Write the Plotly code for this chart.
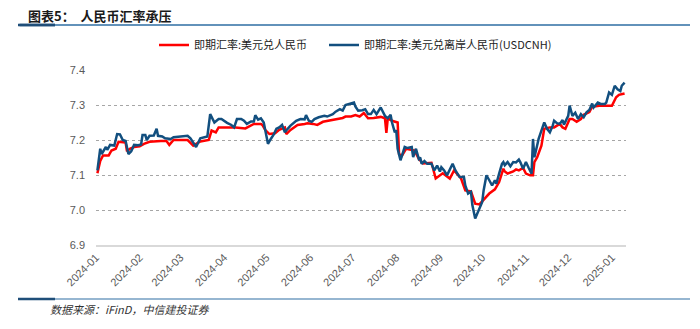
import plotly.graph_objects as go

# 即期汇率:美元兑人民币 (CNY)
cny_dates = ["2024-01-02","2024-01-04","2024-01-06","2024-01-10","2024-01-12","2024-01-15","2024-01-17","2024-01-22","2024-01-23","2024-01-25",
"2024-01-28","2024-02-01","2024-02-04","2024-02-08","2024-02-16","2024-02-20","2024-02-22","2024-02-25","2024-03-01","2024-03-06",
"2024-03-10","2024-03-15","2024-03-21","2024-03-23","2024-03-26","2024-03-28","2024-04-01","2024-04-06","2024-04-09","2024-04-16",
"2024-04-18","2024-04-22","2024-04-27","2024-04-28","2024-04-30","2024-05-03","2024-05-07","2024-05-10","2024-05-14","2024-05-15",
"2024-05-18","2024-05-23","2024-05-28","2024-05-30","2024-06-03","2024-06-06","2024-06-10","2024-06-15","2024-06-19","2024-06-24",
"2024-06-26","2024-06-30","2024-07-03","2024-07-06","2024-07-09","2024-07-12","2024-07-16","2024-07-21","2024-07-24","2024-07-25",
"2024-07-26","2024-07-29","2024-08-02","2024-08-03","2024-08-05","2024-08-08","2024-08-14","2024-08-17","2024-08-20","2024-08-26",
"2024-08-29","2024-09-03","2024-09-08","2024-09-11","2024-09-16","2024-09-19","2024-09-23","2024-09-26","2024-09-29","2024-10-02",
"2024-10-06","2024-10-10","2024-10-13","2024-10-16","2024-10-17","2024-10-19","2024-10-23","2024-10-25","2024-10-27","2024-10-30",
"2024-11-01","2024-11-04","2024-11-06","2024-11-07","2024-11-09","2024-11-12","2024-11-14","2024-11-18","2024-11-21","2024-11-25",
"2024-11-27","2024-11-29","2024-12-02","2024-12-04","2024-12-07","2024-12-10","2024-12-12","2024-12-16","2024-12-18","2024-12-23",
"2024-12-30","2025-01-01","2025-01-04","2025-01-06","2025-01-10"]
cny_values = [7.105,7.140,7.156,7.156,7.170,7.175,7.195,7.193,7.168,7.175,
7.180,7.182,7.189,7.195,7.197,7.197,7.186,7.200,7.200,7.200,
7.184,7.196,7.200,7.227,7.222,7.236,7.236,7.236,7.236,7.233,
7.238,7.246,7.246,7.243,7.229,7.217,7.219,7.229,7.236,7.217,
7.229,7.243,7.246,7.248,7.246,7.243,7.252,7.256,7.260,7.263,
7.267,7.267,7.271,7.267,7.277,7.262,7.263,7.266,7.262,7.220,
7.262,7.255,7.250,7.160,7.155,7.175,7.170,7.146,7.133,7.135,
7.090,7.105,7.090,7.113,7.090,7.056,7.053,7.018,7.016,7.028,
7.047,7.059,7.080,7.118,7.110,7.104,7.110,7.116,7.113,7.120,
7.104,7.099,7.099,7.137,7.151,7.184,7.232,7.236,7.236,7.246,
7.236,7.232,7.260,7.260,7.252,7.260,7.272,7.280,7.295,7.298,
7.298,7.298,7.322,7.329,7.333]

# 即期汇率:美元兑离岸人民币(USDCNH)
cnh_dates = ["2024-01-02","2024-01-04","2024-01-05","2024-01-08","2024-01-09","2024-01-11","2024-01-14","2024-01-16","2024-01-18","2024-01-20",
"2024-01-22","2024-01-24","2024-01-26","2024-01-28","2024-01-31","2024-02-02","2024-02-03","2024-02-05","2024-02-06","2024-02-08",
"2024-02-11","2024-02-13","2024-02-14","2024-02-17","2024-02-19","2024-02-23","2024-02-25","2024-03-01","2024-03-06","2024-03-08",
"2024-03-12","2024-03-15","2024-03-17","2024-03-20","2024-03-22","2024-03-25","2024-03-28","2024-03-30","2024-04-03","2024-04-06",
"2024-04-08","2024-04-10","2024-04-13","2024-04-15","2024-04-17","2024-04-20","2024-04-22","2024-04-23","2024-04-25","2024-04-27",
"2024-04-29","2024-04-30","2024-05-02","2024-05-04","2024-05-06","2024-05-08","2024-05-10","2024-05-12","2024-05-14","2024-05-16",
"2024-05-18","2024-05-22","2024-05-25","2024-05-28","2024-05-29","2024-05-31","2024-06-02","2024-06-04","2024-06-07","2024-06-11",
"2024-06-13","2024-06-17","2024-06-19","2024-06-22","2024-06-24","2024-06-26","2024-06-29","2024-07-02","2024-07-03","2024-07-05",
"2024-07-08","2024-07-10","2024-07-12","2024-07-14","2024-07-16","2024-07-18","2024-07-21","2024-07-24","2024-07-26","2024-07-28",
"2024-07-29","2024-07-31","2024-08-01","2024-08-02","2024-08-04","2024-08-05","2024-08-07","2024-08-09","2024-08-12","2024-08-13",
"2024-08-15","2024-08-17","2024-08-18","2024-08-19","2024-08-21","2024-08-23","2024-08-26","2024-08-28","2024-08-30","2024-09-01",
"2024-09-02","2024-09-04","2024-09-06","2024-09-10","2024-09-12","2024-09-15","2024-09-18","2024-09-19","2024-09-21","2024-09-23",
"2024-09-24","2024-09-26","2024-09-28","2024-10-01","2024-10-02","2024-10-04","2024-10-06","2024-10-08","2024-10-10","2024-10-11",
"2024-10-13","2024-10-15","2024-10-16","2024-10-17","2024-10-19","2024-10-21","2024-10-23","2024-10-25","2024-10-27","2024-10-28",
"2024-10-30","2024-11-01","2024-11-03","2024-11-05","2024-11-06","2024-11-07","2024-11-09","2024-11-10","2024-11-12","2024-11-14",
"2024-11-16","2024-11-18","2024-11-20","2024-11-21","2024-11-23","2024-11-25","2024-11-27","2024-11-28","2024-12-01","2024-12-02",
"2024-12-04","2024-12-06","2024-12-08","2024-12-10","2024-12-12","2024-12-14","2024-12-16","2024-12-18","2024-12-19","2024-12-22",
"2024-12-24","2024-12-27","2024-12-28","2024-12-30","2025-01-01","2025-01-03","2025-01-05","2025-01-07","2025-01-08","2025-01-10"]
cnh_values = [7.113,7.175,7.160,7.180,7.172,7.186,7.184,7.217,7.216,7.200,
7.197,7.160,7.168,7.186,7.185,7.187,7.214,7.214,7.200,7.212,
7.213,7.232,7.212,7.210,7.205,7.203,7.208,7.210,7.212,7.205,
7.180,7.205,7.207,7.210,7.274,7.250,7.260,7.260,7.249,7.243,
7.236,7.260,7.260,7.255,7.246,7.253,7.253,7.271,7.258,7.262,
7.250,7.227,7.189,7.203,7.215,7.232,7.236,7.243,7.222,7.232,
7.241,7.255,7.260,7.259,7.271,7.255,7.252,7.260,7.265,7.269,
7.267,7.274,7.281,7.288,7.284,7.300,7.303,7.307,7.296,7.284,
7.285,7.288,7.274,7.274,7.286,7.274,7.293,7.269,7.262,7.272,
7.250,7.222,7.228,7.175,7.142,7.155,7.180,7.177,7.180,7.151,
7.175,7.146,7.150,7.132,7.140,7.132,7.132,7.113,7.127,7.110,
7.122,7.113,7.099,7.132,7.113,7.094,7.094,7.070,7.047,7.052,
7.014,6.976,6.995,7.023,7.056,7.099,7.085,7.070,7.085,7.075,
7.104,7.132,7.137,7.128,7.137,7.125,7.137,7.136,7.144,7.137,
7.118,7.137,7.120,7.104,7.203,7.151,7.185,7.203,7.227,7.250,
7.232,7.222,7.241,7.255,7.248,7.246,7.257,7.244,7.269,7.298,
7.269,7.278,7.260,7.274,7.265,7.279,7.286,7.304,7.293,7.307,
7.303,7.303,7.307,7.336,7.329,7.355,7.345,7.340,7.355,7.364]

tick_vals = ["2024-01-01","2024-02-01","2024-03-01","2024-04-01","2024-05-01","2024-06-01","2024-07-01",
             "2024-08-01","2024-09-01","2024-10-01","2024-11-01","2024-12-01","2025-01-01"]
tick_text = ["2024-01","2024-02","2024-03","2024-04","2024-05","2024-06","2024-07",
             "2024-08","2024-09","2024-10","2024-11","2024-12","2025-01"]

W, H = 700, 329
L, R, T, B = 96, 74, 70, 84
PW, PH = W - L - R, H - T - B

def px(x):
    return (x - L) / PW

def py(y):
    return 1 - (y - T) / PH

CJK = "Noto Sans CJK SC"
legend_font = dict(family=CJK, size=11, color="#222222")

fig = go.Figure()
fig.add_trace(go.Scatter(x=cny_dates, y=cny_values, mode="lines",
                         name="即期汇率:美元兑人民币", legend="legend",
                         line=dict(color="#ff0000", width=2.5)))
fig.add_trace(go.Scatter(x=cnh_dates, y=cnh_values, mode="lines",
                         name="即期汇率:美元兑离岸人民币(USDCNH)", legend="legend2",
                         line=dict(color="#124f7f", width=2.5)))

fig.update_layout(
    width=W, height=H,
    margin=dict(l=L, r=R, t=T, b=B),
    paper_bgcolor="white", plot_bgcolor="white",
    font=dict(family=CJK, color="#333333"),
    showlegend=True,
    legend=dict(orientation="h", x=px(154), y=py(45), xanchor="left", yanchor="middle",
                font=legend_font, bgcolor="rgba(0,0,0,0)", itemwidth=30),
    legend2=dict(orientation="h", x=px(324), y=py(45), xanchor="left", yanchor="middle",
                 font=legend_font, bgcolor="rgba(0,0,0,0)", itemwidth=30),
    xaxis=dict(type="date", range=["2024-01-01", "2025-01-11"],
               tickvals=tick_vals, ticktext=tick_text, tickangle=-45,
               tickfont=dict(family="Liberation Sans", size=11, color="#595959"),
               showgrid=False, showline=True, linecolor="#d9d9d9", linewidth=1.5,
               ticks="", zeroline=False),
    yaxis=dict(range=[6.9, 7.4], dtick=0.1, tick0=6.9, tickformat=".1f",
               tickfont=dict(family="Liberation Sans", size=11, color="#595959"),
               showgrid=True, gridcolor="#a6a6a6", griddash="dot", gridwidth=1,
               zeroline=False, showline=False, ticklabelstandoff=10),
)

# header and footer rules (shapes)
for y in (25, 299):
    fig.add_shape(type="line", xref="paper", yref="paper",
                  x0=px(18), x1=px(690), y0=py(y), y1=py(y),
                  line=dict(color="#2f6ea3", width=1.2))
    fig.add_shape(type="line", xref="paper", yref="paper",
                  x0=px(18), x1=px(55), y0=py(y), y1=py(y),
                  line=dict(color="#1f4e79", width=2.5))

# header rule again as plain arrow lines, drawn in the annotation layer
fig.add_annotation(xref="paper", yref="paper", x=px(690), y=py(25), ax=-672, ay=0,
                   text="", showarrow=True, arrowhead=0, arrowwidth=1.2, arrowcolor="#2f6ea3",
                   standoff=0, startstandoff=0)
fig.add_annotation(xref="paper", yref="paper", x=px(55), y=py(25), ax=-37, ay=0,
                   text="", showarrow=True, arrowhead=0, arrowwidth=2.5, arrowcolor="#1f4e79",
                   standoff=0, startstandoff=0)

fig.add_annotation(xref="paper", yref="paper", x=px(26), y=py(15), xanchor="left", yanchor="middle",
                   text="<b>图表5：  人民币汇率承压</b>", showarrow=False,
                   font=dict(family=CJK, size=13, color="#1a1a1a"))
fig.add_annotation(xref="paper", yref="paper", x=px(48), y=py(309), xanchor="left", yanchor="middle",
                   text="<i>数据来源：iFinD，中信建投证券</i>", showarrow=False,
                   font=dict(family=CJK, size=11, color="#333333"))

fig.write_html("out.html")
